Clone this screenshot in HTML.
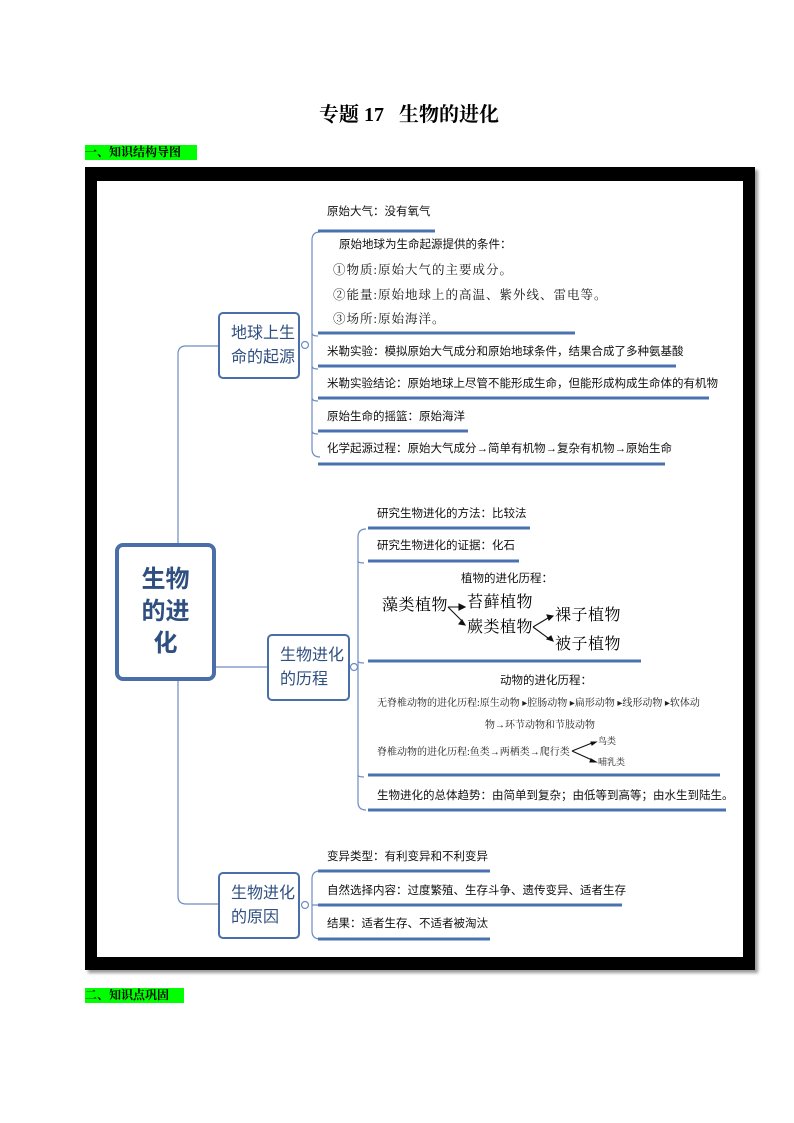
<!DOCTYPE html>
<html><head><meta charset="utf-8">
<style>
body{margin:0;width:794px;height:1123px;background:#fff;position:relative;overflow:hidden;font-family:"Liberation Sans","Noto Sans CJK SC",sans-serif;}
.a{position:absolute;white-space:nowrap;line-height:1;}
.t{font-size:11.5px;color:#111;}
.s{font-family:"Liberation Serif","Noto Serif CJK SC",serif;}
.box{position:absolute;border:2px solid #4a6fa8;border-radius:5px;background:#fff;box-sizing:border-box;color:#2f4f80;font-size:16px;line-height:24px;padding:0 0 0 11px;display:flex;align-items:center;white-space:nowrap;}
.g{position:absolute;background:#00ff00;font-size:12px;font-weight:bold;line-height:15px;font-family:"Liberation Serif","Noto Serif CJK SC",serif;}
</style></head><body>
<div class="a s" style="left:319px;top:105px;font-size:20px;font-weight:bold;">专题 17&nbsp;&nbsp;&nbsp;生物的进化</div>
<div class="g" style="left:85px;top:145px;width:112px;">一、知识结构导图</div>
<div class="g" style="left:85px;top:988px;width:99px;">二、知识点巩固</div>

<div style="position:absolute;left:85px;top:167px;width:670px;height:803px;background:#000;box-shadow:3px 3px 3px #999;"></div>
<div style="position:absolute;left:97px;top:181px;width:646px;height:776px;background:#fff;"></div>

<svg style="position:absolute;left:0;top:0" width="794" height="1123">
<g fill="none" stroke="#6d8cc4" stroke-width="1.2">
<path d="M218 346 H186 Q178 346 178 354 V896 Q178 904 186 904 H218"/>
<path d="M215 667 H267"/>
<path d="M320 232 Q312 232 312 240 V449 Q312 457 320 457"/>
<path d="M312 333 Q312 336 318 336 M312 366 Q312 369 318 369 M312 398 Q312 401 318 401 M312 431 Q312 434 318 434"/>
<path d="M366 529 Q358 529 358 537 V802 Q358 810 366 810"/>
<path d="M358 561 Q358 563 364 563 M358 661 Q358 663 364 663 M358 775 Q358 777 364 777"/>
<path d="M320 871 Q312 871 312 879 V931 Q312 939 320 939 M312 905 H318"/>
<circle cx="305" cy="345" r="3.5" fill="#fff"/><circle cx="354" cy="667" r="3.5" fill="#fff"/><circle cx="305" cy="905" r="3.5" fill="#fff"/>
</g>
<g stroke="#4a72b0" stroke-width="3">
<path d="M318 231H435M318 333H575M318 366H676M318 398H709M318 431H468M318 464H665"/>
<path d="M368 528H530M368 561H519M368 661H641M368 775H720M368 810H726"/>
<path d="M318 871H490M318 905H622M318 939H490"/>
</g>
<g stroke="#111" stroke-width="1.1" fill="#111">
<path d="M448 607H460M448 607L462 621M533 627L548 618M533 627L548 638"/>
<path d="M465 607l-6-3v6z M465 625l-6-1 3-4z M553 616l-6-1 2 5z M553 641l-2-5-4 3z"/>
<path d="M572 751L592 743M572 751L592 760"/>
<path d="M596 742l-5 0 1 3z M596 762l-5-3-1 3z"/>
</g>
</svg>

<div class="box" style="left:115px;top:543px;width:101px;height:138px;border:4px solid #4a6fa8;border-radius:8px;font-size:24px;line-height:32px;font-weight:bold;padding:0;justify-content:center;text-align:center;"><div>生物<br>的进<br>化</div></div>
<div class="box" style="left:218px;top:312px;width:82px;height:67px;"><div>地球上生<br>命的起源</div></div>
<div class="box" style="left:267px;top:634px;width:83px;height:67px;"><div>生物进化<br>的历程</div></div>
<div class="box" style="left:218px;top:872px;width:82px;height:67px;"><div>生物进化<br>的原因</div></div>

<div class="a t" style="left:327px;top:207px;">原始大气：没有氧气</div>
<div class="a t" style="left:339px;top:240px;">原始地球为生命起源提供的条件：</div>
<div class="a t s" style="left:333px;top:264px;font-size:12.5px;letter-spacing:1px;">①物质:原始大气的主要成分。</div>
<div class="a t s" style="left:333px;top:289px;font-size:12.5px;letter-spacing:1px;">②能量:原始地球上的高温、紫外线、雷电等。</div>
<div class="a t s" style="left:333px;top:313px;font-size:12.5px;letter-spacing:1px;">③场所:原始海洋。</div>
<div class="a t" style="left:327px;top:347px;">米勒实验：模拟原始大气成分和原始地球条件，结果合成了多种氨基酸</div>
<div class="a t" style="left:327px;top:379px;">米勒实验结论：原始地球上尽管不能形成生命，但能形成构成生命体的有机物</div>
<div class="a t" style="left:327px;top:412px;">原始生命的摇篮：原始海洋</div>
<div class="a t" style="left:327px;top:444px;">化学起源过程：原始大气成分→简单有机物→复杂有机物→原始生命</div>

<div class="a t" style="left:377px;top:509px;">研究生物进化的方法：比较法</div>
<div class="a t" style="left:377px;top:541px;">研究生物进化的证据：化石</div>
<div class="a t" style="left:461px;top:574px;">植物的进化历程：</div>
<div class="a s" style="left:382px;top:598px;font-size:16px;letter-spacing:0.5px;">藻类植物</div>
<div class="a s" style="left:467px;top:595px;font-size:16px;letter-spacing:0.5px;">苔藓植物</div>
<div class="a s" style="left:467px;top:620px;font-size:16px;letter-spacing:0.5px;">蕨类植物</div>
<div class="a s" style="left:555px;top:608px;font-size:16px;letter-spacing:0.5px;">裸子植物</div>
<div class="a s" style="left:555px;top:637px;font-size:16px;letter-spacing:0.5px;">被子植物</div>
<div class="a t" style="left:500px;top:676px;">动物的进化历程：</div>
<div class="a s" style="left:377px;top:699px;font-size:10px;color:#222;">无脊椎动物的进化历程:原生动物 ▸腔肠动物 ▸扁形动物 ▸线形动物 ▸软体动</div>
<div class="a s" style="left:485px;top:721px;font-size:10px;color:#222;">物→环节动物和节肢动物</div>
<div class="a s" style="left:377px;top:748px;font-size:10px;color:#222;">脊椎动物的进化历程:鱼类→两栖类→爬行类</div>
<div class="a s" style="left:598px;top:737px;font-size:9px;color:#222;">鸟类</div>
<div class="a s" style="left:598px;top:758px;font-size:9px;color:#222;">哺乳类</div>
<div class="a t" style="left:377px;top:791px;">生物进化的总体趋势：由简单到复杂；由低等到高等；由水生到陆生。</div>

<div class="a t" style="left:327px;top:852px;">变异类型：有利变异和不利变异</div>
<div class="a t" style="left:327px;top:886px;">自然选择内容：过度繁殖、生存斗争、遗传变异、适者生存</div>
<div class="a t" style="left:327px;top:919px;">结果：适者生存、不适者被淘汰</div>
</body></html>
